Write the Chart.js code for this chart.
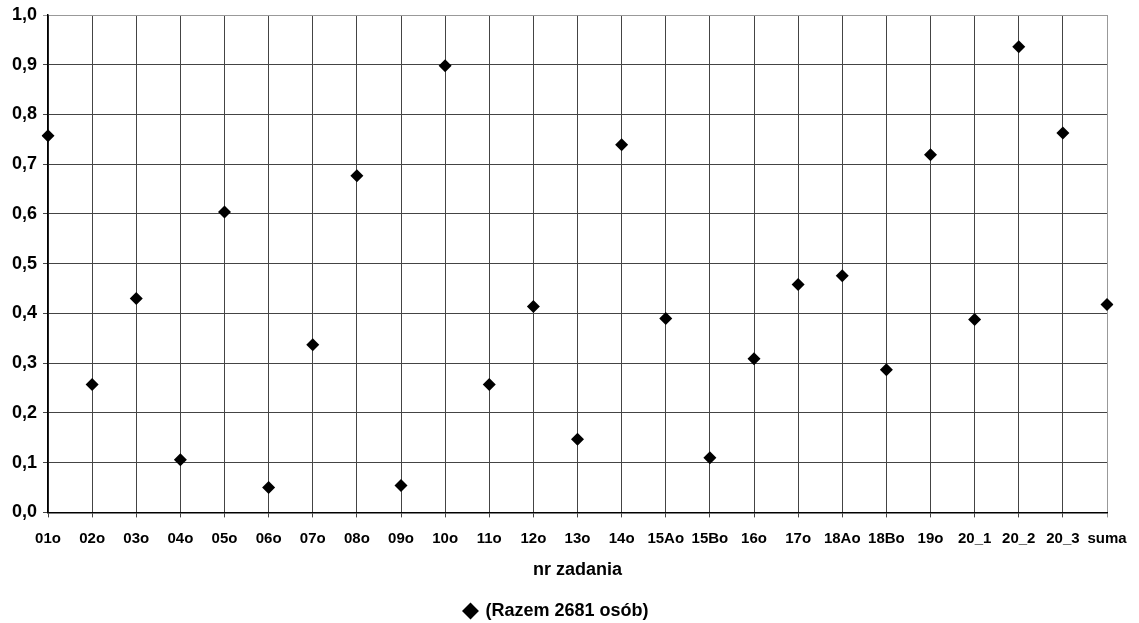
<!DOCTYPE html>
<html>
<head>
<meta charset="utf-8">
<script src="https://cdn.jsdelivr.net/npm/chart.js@4"></script>
<style>
  html, body { margin: 0; padding: 0; background: #fff; }
  #wrap { width: 1139px; height: 623px; }
</style>
</head>
<body>
<div id="wrap"><canvas id="chart"></canvas></div>
<script>
// task labels along the x axis
const zadania = ["01o", "02o", "03o", "04o", "05o", "06o", "07o", "08o", "09o", "10o",
  "11o", "12o", "13o", "14o", "15Ao", "15Bo", "16o", "17o", "18Ao", "18Bo",
  "19o", "20_1", "20_2", "20_3", "suma"];

// values
const razem = [0.757, 0.257, 0.430, 0.106, 0.604, 0.050, 0.337, 0.677, 0.054, 0.898,
  0.257, 0.414, 0.147, 0.739, 0.390, 0.110, 0.309, 0.458, 0.476, 0.287,
  0.719, 0.388, 0.936, 0.763, 0.418];

const seriesLabel = "(Razem 2681 osób)";
const xTitle = "nr zadania";

const FONT = "'Liberation Sans', Arial, sans-serif";

new Chart(document.getElementById("chart"), {
  type: 'line',
  data: {
    labels: zadania,
    datasets: [{
      label: seriesLabel,
      data: razem,
      showLine: false,
      pointStyle: 'rectRot',
      pointRadius: 6.5,
      pointHoverRadius: 6.5,
      backgroundColor: '#000',
      borderColor: '#000',
      borderWidth: 0
    }]
  },
  options: {
    responsive: true,
    maintainAspectRatio: false,
    animation: false,
    layout: { autoPadding: false, padding: { left: 6, right: 32, top: 6, bottom: -7 } },
    plugins: {
      tooltip: { enabled: false },
      legend: {
        position: 'bottom',
        labels: {
          usePointStyle: true,
          pointStyle: 'rectRot',
          boxWidth: 12,
          boxHeight: 12,
          color: '#000',
          padding: 0,
          font: { family: FONT, size: 18, weight: 'bold' }
        }
      }
    },
    scales: {
      x: {
        offset: false,
        grid: {
          color: (c) => c.index === zadania.length - 1 ? '#999' : '#444',
          lineWidth: 1,
          tickLength: 5
        },
        border: { color: '#000', width: 1.5 },
        ticks: {
          color: '#000',
          maxRotation: 0,
          autoSkip: false,
          padding: 12,
          font: { family: FONT, size: 15, weight: 'bold' }
        },
        title: {
          display: true,
          text: xTitle,
          color: '#000',
          padding: { top: 0, bottom: 21 },
          font: { family: FONT, size: 18, weight: 'bold' }
        }
      },
      y: {
        min: 0,
        max: 1,
        grid: {
          color: (c) => c.tick.value === 1 ? '#999' : '#444',
          lineWidth: 1,
          tickLength: 5
        },
        border: { color: '#000', width: 1.5 },
        ticks: {
          stepSize: 0.1,
          color: '#000',
          padding: 6,
          font: { family: FONT, size: 18, weight: 'bold', lineHeight: 1 },
          callback: (v) => v.toFixed(1).replace('.', ',')
        }
      }
    }
  }
});
</script>
</body>
</html>
